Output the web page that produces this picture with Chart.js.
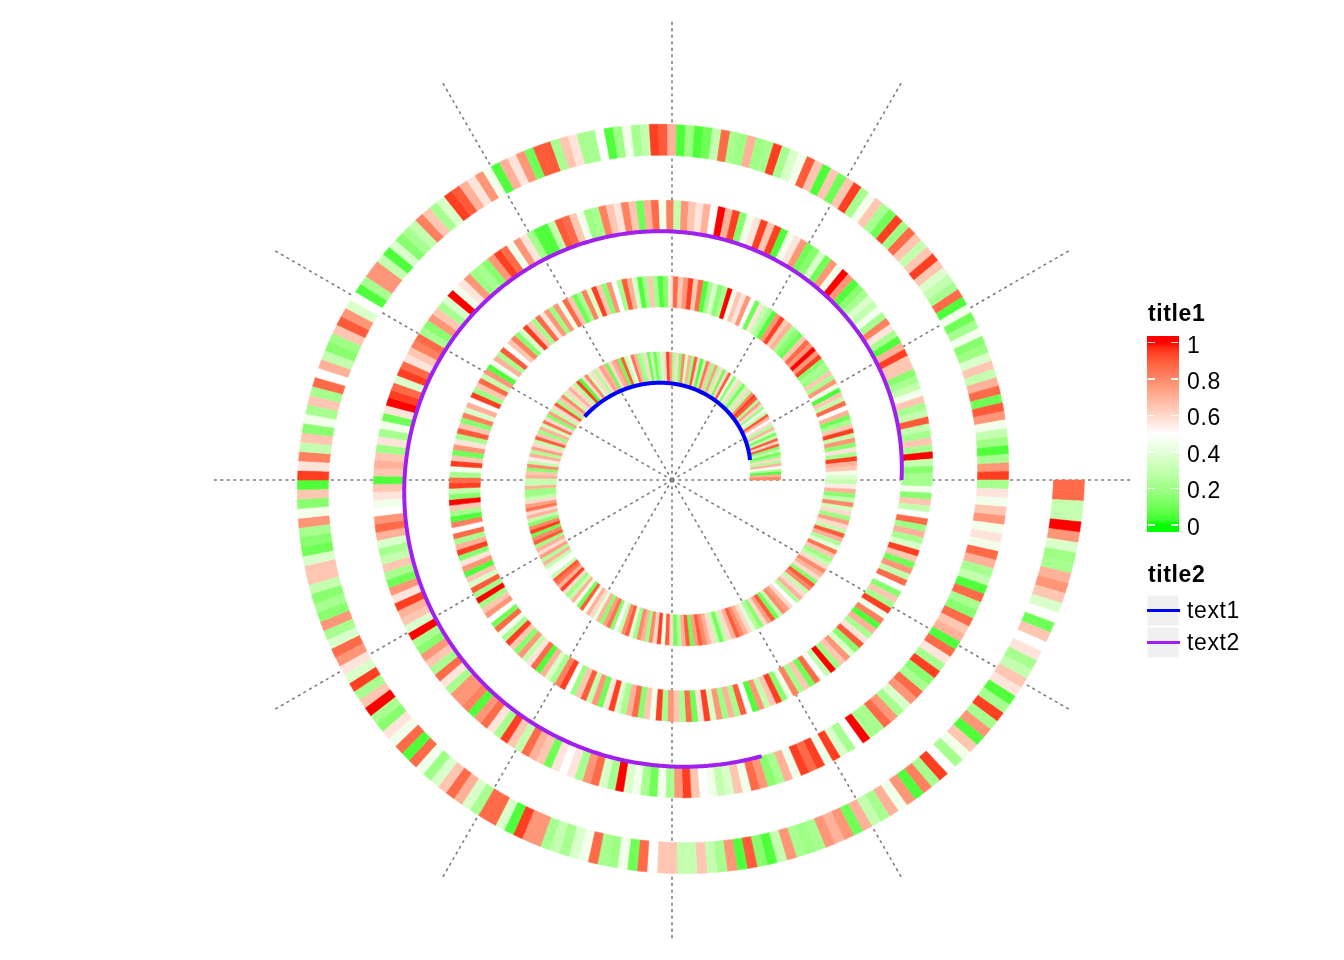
<!DOCTYPE html>
<html>
<head>
<meta charset="utf-8">
<title>Spiral heatmap</title>
<script src="https://cdn.jsdelivr.net/npm/chart.js@4"></script>
<style>
  body { margin: 0; background: #fff; }
  #wrap { position: relative; width: 1344px; height: 960px; overflow: hidden; }
  #spiral { position: absolute; left: 0; top: 0; width: 1344px; height: 960px; }
  .lg { position: absolute; font-family: "Liberation Sans", Arial, sans-serif; font-size: 23px; line-height: 23px; letter-spacing: 0.6px; color: #000; white-space: nowrap; }
  .title { font-weight: bold; }
  .tick { position: absolute; width: 7px; height: 1.5px; background: rgba(255,255,255,0.9); }
  .key { position: absolute; left: 1147px; width: 32px; height: 31px; background: #f0f0f0; border: 1px solid #f9f9f9; box-sizing: border-box; }
  .keyline { position: absolute; left: 1147px; width: 33px; height: 3px; }
</style>
</head>
<body>
<div id="wrap">
  <canvas id="spiral" width="1344" height="960"></canvas>
  <div id="legend"></div>
</div>
<script>
// heatmap values along the spiral, one array per turn, starting at 3 o'clock, counter-clockwise
var turn1 = [.8,.7,.05,.25,.5,.7,.25,.6,.2,.1,.3,.15,.9,.6,.9,.3,.1,.35,.7,.25,.6,
  .5,.7,.9,.3,.45,.2,.6,.75,.25,.9,.95,.8,.25,.6,.3,.1,.25,.6,.35,.15,.45,.9,.6,.1,.6,.25,.75,.2,.65,.85,.3,.05,.6,.9,.2,.7,.35,.8,.15,.6,.25,.75,
  .95,.6,.35,.25,.1,.3,.1,.6,.25,.2,.7,.85,.45,.3,.9,.1,.75,.7,.6,.1,.7,.75,.6,.25,.6,.35,.8,.6,.05,.95,.25,.6,.7,.6,.3,
  .8,.65,.2,.9,.6,.3,.75,.15,.6,.85,.35,.7,.2,.65,.9,.3,.6,.75,.25,.7,.55,.3,.8,.15,.65,.7,.3,
  .3,.7,.2,.2,.3,.6,.75,.85,.6,.7,.3,.15,.8,.95,.1,.8,.9,.2,.7,.6,.75,.25,.7,.3,.45,.5,.3,
  .9,.85,.7,.95,.6,.2,.3,.7,.45,.1,.9,.45,.7,.6,.4,.7,.15,.75,.85,.15,.5,.3,.8,.9,.4,.2,.8,.7,.2,.8,.6,.95,.45,.9,.6,
  .1,.25,.7,.9,.1,.75,.9,.8,.7,.6,.3,.1,.3,.6,.7,.9,.8,.7,.6,.4,.25,.15,.6,.75,.9,.1,.3,.8,.75,.6,.5,.25,
  .7,.6,.3,.8,.9,.15,.6,.7,.8,.6,.3,.2,.65,.85,.4,.25,.7,.9,.3,.6,.75,.2,.6,.35,.8,.3,.15,.7,.55,.3];
var turn2 = [.37,.45,.65,.7,.95,.22,.57,.15,.77,.3,.95,.65,.22,.1,.7,.5,.87,.3,.65,.05,.45,.77,.22,.65,.2,
  .22,.15,.95,.77,1,.77,.87,.65,.1,.15,.22,.7,.65,.95,.77,.05,.22,.3,.57,.1,.5,.77,.57,.65,.45,1,.22,.15,.37,.22,.05,.87,.65,.95,.77,.65,.87,.57,.15,.05,.22,.65,.22,.05,.37,
  .7,.9,.22,.5,.77,.15,.65,.95,.37,.82,.22,.1,.65,.87,.45,.77,.2,
  .77,.57,.87,.22,.65,.95,.37,.15,.82,.65,.5,.9,.22,.7,.45,.05,.77,.3,.87,.65,.2,.95,.5,.7,.37,.82,.15,.65,.9,.22,.57,.77,.1,.65,.95,.45,.22,.87,
  .95,.3,.15,1,.65,.22,.05,.82,.5,.87,.22,.7,.95,.15,.57,.77,.05,.65,.37,.9,.22,1,.2,.65,.77,.5,.1,.87,.45,.22,.95,.65,.15,.77,.3,.57,.87,.05,.7,.37,.22,.82,.95,.5,.2,.65,.9,.3,.77,.1,.57,.95,.37,.22,.7,.87,.15,.65,.45,.95,.22,.77,
  .65,.22,.87,.1,.57,.95,.37,.77,.2,.7,.22,.9,.5,.05,.77,.3,.65,.95,.15,.45,.82,.22,.65,.1,.87,.5,.3,1,.2,.65,.77,.37,.15,.9,.57,.22,.7,.05,.82,.45,.95,.22,.65,.15,.5,.87,.3,.77,.1,.65,.95,.37,.22,.7,.2,.87,.5,.3,.65,.15,.45,.22];
var turn3 = [.22,.15,.3,1,.22,.65,.22,.3,.9,.3,.22,.65,.45,.3,.22,.15,.65,
  .65,.95,.7,.05,.22,.57,.82,.22,.45,.3,.37,.22,.15,.05,.77,1,.45,.77,.1,.37,.15,
  .1,.77,.57,.45,.05,.95,.65,.95,.57,.45,.15,.95,.7,1,.5,.7,.57,.65,.77,.3,.82,.45,.87,.7,.1,.65,.82,.57,.65,.82,.22,.2,.45,.65,.87,.9,.3,.05,
  .05,.22,.57,.77,.45,.87,.95,.77,.15,.22,.2,.77,.57,.45,1,.37,.22,.65,.77,.15,.22,.87,.82,.65,.57,.87,
  .95,.37,.87,.95,1,.57,.1,.45,.22,.57,.2,.65,.7,.65,.05,.65,.57,.45,.5,.77,.87,.7,.37,.22,.3,.65,.22,.1,.77,.57,.95,.7,
  .65,.37,1,.22,.15,.77,.65,.22,.87,.57,.22,.77,.77,.82,.05,.77,.87,.57,.22,.95,.65,.3,.87,.7,
  .65,.1,.57,.5,.57,.22,.77,.87,.37,.22,1,.37,.45,.22,.1,.45,.22,.77,.95,.65,.5,.45,.3,.37,.65,.45,.87,.77,.15,.22,.7,.45,.95,.87,
  .95,.45,.95,.37,.22,.5,1,.22,.22,.87,.77,.22,.37,.77,.87,.22,.15,.95,.22,.57,.87,.05,
  .7,.65,.87,.15,.22,.87,.05,.3,.22,.7,.87,.45,.57,.45,.77,.65,.45,.57,.22];
var turn4 = [.95,.77,.22,.05,.2,.3,.45,.77,.9,.1,.87,.7,.3,
  .65,.37,.2,.15,.45,.22,.1,.45,.05,.87,.22,.3,.37,.65,.95,.65,.3,.65,.87,.2,.95,.1,.22,.65,.45,.22,.95,.65,.1,.65,
  .05,.65,.9,.45,.37,.22,.95,.22,.2,.7,.2,.22,.87,.3,.1,.05,.2,.05,
  .7,.9,.95,.3,.22,.45,.2,.05,.5,.22,.22,.57,.65,
  .22,.9,.9,.1,.77,.57,.7,.05,.45,.77,.57,.7,.9,.95,.37,.22,.65,.82,.3,.22,.15,.37,.05,.3,.77,.77,.22,.05,.5,.37,.77,.9,.65,.2,.15,
  .3,.7,.5,.87,.22,.65,.22,.45,.15,.65,.3,.82,.57,.95,.05,.65,.15,.45,.77,.22,.15,.1,.37,.65,.65,.3,.15,
  .22,.15,.77,.22,.37,.87,.77,.57,.37,.95,.22,.65,1,.22,.15,.57,.45,.87,.05,.87,.45,.2,.37,.65,.87,.7,.37,.22,.87,.87,.37,.05,.95,.77,
  .77,.22,.3,.22,.37,.45,.87,.22,.2,.45,.1,.87,.5,.65,.65,.3,.3,.65,.3,.22,.77,.05,.9,.15,.05,.3,.77,.22,.2,
  .22,.77,.7,.77,.1,.7,.3,.22,.7,.45,.77,.05,.82,.22,.95,.5,.22,.45,.65,.05,.77,.22,.95,.22,.05,.57,.65,.3,.22,.57,.5,
  .65,.1,.5,.37,.65,.77,.7,.22,.2,.37,.77,1,.3,.3,.87,.87];
var turns = [turn1, turn2, turn3, turn4];

// the two lines, in positions along the spiral (0..1000)
var lineNames = ["text1", "text2"];
var lineFrom = [10, 500];
var lineTo = [100, 700];
var spiralLength = 1000;

// legend
var tickValues = [1, 0.8, 0.6, 0.4, 0.2, 0];
var tickLabels = ["1", "0.8", "0.6", "0.4", "0.2", "0"];

// layout
var R0 = 93, PITCH = 76, HALF = 15.5, GRID_R = 460;
var lineColors = ["#0000FF", "#A020F0"];

// green - white - red, interpolated in LAB like colorRamp2
function toLinear(c) { c = c / 255; return c <= 0.04045 ? c / 12.92 : Math.pow((c + 0.055) / 1.055, 2.4); }
function fromLinear(c) { c = c <= 0.0031308 ? 12.92 * c : 1.055 * Math.pow(c, 1 / 2.4) - 0.055; return Math.round(Math.min(1, Math.max(0, c)) * 255); }
function rgbToLab(rgb) {
  var r = toLinear(rgb[0]), g = toLinear(rgb[1]), b = toLinear(rgb[2]);
  var X = (0.4124 * r + 0.3576 * g + 0.1805 * b) / 0.95047;
  var Y = 0.2126 * r + 0.7152 * g + 0.0722 * b;
  var Z = (0.0193 * r + 0.1192 * g + 0.9505 * b) / 1.08883;
  var f = function (t) { return t > 0.008856 ? Math.cbrt(t) : 7.787 * t + 16 / 116; };
  return [116 * f(Y) - 16, 500 * (f(X) - f(Y)), 200 * (f(Y) - f(Z))];
}
function labToRgb(lab) {
  var fy = (lab[0] + 16) / 116, fx = fy + lab[1] / 500, fz = fy - lab[2] / 200;
  var inv = function (t) { return t * t * t > 0.008856 ? t * t * t : (t - 16 / 116) / 7.787; };
  var X = 0.95047 * inv(fx), Y = inv(fy), Z = 1.08883 * inv(fz);
  return [fromLinear(3.2406 * X - 1.5372 * Y - 0.4986 * Z),
          fromLinear(-0.9689 * X + 1.8758 * Y + 0.0415 * Z),
          fromLinear(0.0557 * X - 0.2040 * Y + 1.0570 * Z)];
}
var labGreen = rgbToLab([0, 255, 0]), labWhite = rgbToLab([255, 255, 255]), labRed = rgbToLab([255, 0, 0]);
function valueColor(v) {
  v = Math.min(1, Math.max(0, v));
  var a = labGreen, b = labWhite, t = v / 0.5;
  if (v > 0.5) { a = labWhite; b = labRed; t = (v - 0.5) / 0.5; }
  var rgb = labToRgb([a[0] + (b[0] - a[0]) * t, a[1] + (b[1] - a[1]) * t, a[2] + (b[2] - a[2]) * t]);
  return "rgb(" + rgb.join(",") + ")";
}

function spiralPoint(theta, offset) {
  var r = R0 + PITCH * theta / (2 * Math.PI) + offset;
  return { x: r * Math.cos(theta), y: r * Math.sin(theta) };
}

var datasets = [];

// lines on the inner edge of the track
for (let k = 0; k < lineNames.length; k++) {
  var pts = [];
  for (let x = lineFrom[k]; x <= lineTo[k]; x += 0.5) {
    pts.push(spiralPoint(x / spiralLength * 8 * Math.PI, -HALF));
  }
  datasets.push({ label: lineNames[k], data: pts, borderColor: lineColors[k], borderWidth: 4,
    pointRadius: 0, fill: false, order: 0 });
}

// heatmap cells
for (let t = 0; t < turns.length; t++) {
  var vals = turns[t];
  for (let i = 0; i < vals.length; i++) {
    var a0 = 2 * Math.PI * (t + i / vals.length);
    var a1 = 2 * Math.PI * (t + (i + 1) / vals.length);
    var col = valueColor(vals[i]);
    datasets.push({
      data: [spiralPoint(a0, -HALF), spiralPoint(a1, -HALF), spiralPoint(a1, HALF), spiralPoint(a0, HALF), spiralPoint(a0, -HALF)],
      borderColor: col, backgroundColor: col, borderWidth: 0.6, fill: "shape",
      pointRadius: 0, order: 1
    });
  }
}

// dotted radial grid
for (let g = 0; g < 12; g++) {
  var ang = g * Math.PI / 6;
  datasets.push({
    data: [{ x: 0, y: 0 }, { x: GRID_R * Math.cos(ang), y: GRID_R * Math.sin(ang) }],
    borderColor: "#7f7f7f", borderWidth: 1.6, borderDash: [3, 3.5], pointRadius: 0, fill: false, order: 2
  });
}

new Chart(document.getElementById("spiral"), {
  type: "line",
  data: { datasets: datasets },
  options: {
    responsive: false,
    animation: false,
    events: [],
    layout: { padding: 0 },
    plugins: { legend: { display: false }, tooltip: { enabled: false } },
    // a tiny tension keeps Chart.js off its fast path, which merges points sharing an x pixel
    elements: { line: { tension: 0.0001, capBezierPoints: false } },
    scales: {
      x: { type: "linear", min: -672, max: 672, display: false },
      y: { type: "linear", min: -480, max: 480, display: false }
    }
  }
});

/* LEGEND */
var legend = document.getElementById("legend");
function addDiv(cls, left, top, text) {
  var d = document.createElement("div");
  d.className = cls;
  d.style.left = left + "px";
  d.style.top = top + "px";
  if (text) d.textContent = text;
  legend.appendChild(d);
  return d;
}

addDiv("lg title", 1148, 301.5, "title1");
var bar = addDiv("", 1147, 336);
bar.style.position = "absolute";
bar.style.width = "32px";
bar.style.height = "196px";
var stops = [];
for (let s = 0; s <= 40; s++) {
  stops.push(valueColor(1 - s / 40) + " " + (6.7 + s / 40 * 182.3).toFixed(1) + "px");
}
bar.style.background = "linear-gradient(to bottom, " + stops.join(", ") + ")";
for (let i = 0; i < tickValues.length; i++) {
  var ty = 342.7 + (1 - tickValues[i]) * 182.3;
  addDiv("tick", 1148, ty - 0.75);
  addDiv("tick", 1171, ty - 0.75);
  addDiv("lg", 1187, ty + 2.5 - 11.7, tickLabels[i]);
}

addDiv("lg title", 1148, 562.5, "title2");
for (let k = 0; k < lineNames.length; k++) {
  var keyTop = 595 + k * 31.5;
  addDiv("key", 1147, keyTop);
  var ln = addDiv("keyline", 1147, keyTop + 14);
  ln.style.background = lineColors[k];
  addDiv("lg", 1187, keyTop + 16 - 11.7, lineNames[k]);
}
</script>
</body>
</html>
